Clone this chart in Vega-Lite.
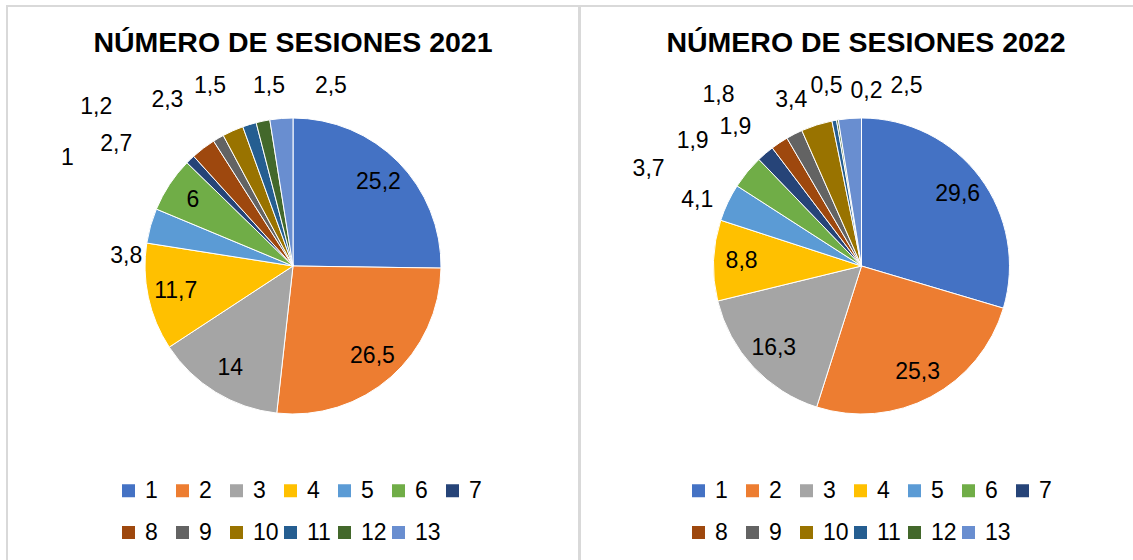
{
  "$schema": "https://vega.github.io/schema/vega-lite/v6.json",
  "padding": {"left": 6, "top": 5, "right": 0, "bottom": 0},
  "spacing": -2,
  "resolve": {"scale": {"color": "independent"}, "legend": {"color": "independent"}},
  "datasets": {
    "d2021": [
      {"cat": 1, "value": 25.2}, {"cat": 2, "value": 26.5}, {"cat": 3, "value": 14},
      {"cat": 4, "value": 11.7}, {"cat": 5, "value": 3.8}, {"cat": 6, "value": 6},
      {"cat": 7, "value": 1}, {"cat": 8, "value": 2.7}, {"cat": 9, "value": 1.2},
      {"cat": 10, "value": 2.3}, {"cat": 11, "value": 1.5}, {"cat": 12, "value": 1.5},
      {"cat": 13, "value": 2.5}
    ],
    "d2022": [
      {"cat": 1, "value": 29.6}, {"cat": 2, "value": 25.3}, {"cat": 3, "value": 16.3},
      {"cat": 4, "value": 8.8}, {"cat": 5, "value": 4.1}, {"cat": 6, "value": 3.7},
      {"cat": 7, "value": 1.9}, {"cat": 8, "value": 1.9}, {"cat": 9, "value": 1.8},
      {"cat": 10, "value": 3.4}, {"cat": 11, "value": 0.5}, {"cat": 12, "value": 0.2},
      {"cat": 13, "value": 2.5}
    ]
  },
  "hconcat": [
    {
      "width": 572, "height": 560,
      "title": {"text": "NÚMERO DE SESIONES 2021", "offset": -74, "baseline": "alphabetic", "fontSize": 28.5, "fontWeight": "bold", "color": "#000000", "anchor": "middle", "frame": "group"},
      "data": {"name": "d2021"},
      "encoding": {
        "theta": {"field": "value", "type": "quantitative", "stack": true},
        "order": {"field": "cat", "type": "quantitative"}
      },
      "layer": [
        {
          "mark": {"type": "arc", "outerRadius": 148, "stroke": "#ffffff", "strokeWidth": 1, "yOffset": -20},
          "encoding": {
            "color": {"field": "cat", "type": "nominal",
              "scale": {"domain": [1,2,3,4,5,6,7,8,9,10,11,12,13], "range": ["#4472C4","#ED7D31","#A5A5A5","#FFC000","#5B9BD5","#70AD47","#264478","#9E480E","#636363","#997300","#255E91","#43682B","#698ED0"]},
              "legend": {"title": null, "orient": "none", "legendX": 110, "legendY": 473, "direction": "horizontal", "columns": 7, "gridAlign": "all", "symbolType": "square", "symbolSize": 169, "symbolStrokeWidth": 0, "labelFontSize": 23, "labelOffset": 5, "columnPadding": -6.5, "rowPadding": 18, "padding": 0, "labelColor": "#000000"}}
          }
        },
        {"mark": {"type": "text", "radius": 120, "fontSize": 23, "yOffset": -20, "color": "#000000"},
         "encoding": {"text": {"condition": {"test": "datum.value >= 5", "field": "value", "type": "quantitative", "format": ".1~f"}, "value": ""}}},
        {"mark": {"type": "text", "radius": 167, "thetaOffset": -0.215, "fontSize": 23, "yOffset": -20, "color": "#000000"},
         "encoding": {"text": {"condition": {"test": "datum.cat == 5", "field": "value", "type": "quantitative", "format": ".1~f"}, "value": ""}}},
        {"mark": {"type": "text", "radius": 250, "thetaOffset": -0.358, "fontSize": 23, "yOffset": -20, "color": "#000000"},
         "encoding": {"text": {"condition": {"test": "datum.cat == 7", "field": "value", "type": "quantitative", "format": ".1~f"}, "value": ""}}},
        {"mark": {"type": "text", "radius": 215, "thetaOffset": -0.314, "fontSize": 23, "yOffset": -20, "color": "#000000"},
         "encoding": {"text": {"condition": {"test": "datum.cat == 8", "field": "value", "type": "quantitative", "format": ".1~f"}, "value": ""}}},
        {"mark": {"type": "text", "radius": 253, "thetaOffset": -0.363, "fontSize": 23, "yOffset": -20, "color": "#000000"},
         "encoding": {"text": {"condition": {"test": "datum.cat == 9", "field": "value", "type": "quantitative", "format": ".1~f"}, "value": ""}}},
        {"mark": {"type": "text", "radius": 208, "thetaOffset": -0.230, "fontSize": 23, "yOffset": -20, "color": "#000000"},
         "encoding": {"text": {"condition": {"test": "datum.cat == 10", "field": "value", "type": "quantitative", "format": ".1~f"}, "value": ""}}},
        {"mark": {"type": "text", "radius": 198, "thetaOffset": -0.134, "fontSize": 23, "yOffset": -20, "color": "#000000"},
         "encoding": {"text": {"condition": {"test": "datum.cat == 11", "field": "value", "type": "quantitative", "format": ".1~f"}, "value": ""}}},
        {"mark": {"type": "text", "radius": 182, "thetaOffset": 0.072, "fontSize": 23, "yOffset": -20, "color": "#000000"},
         "encoding": {"text": {"condition": {"test": "datum.cat == 12", "field": "value", "type": "quantitative", "format": ".1~f"}, "value": ""}}},
        {"mark": {"type": "text", "radius": 184, "thetaOffset": 0.286, "fontSize": 23, "yOffset": -20, "color": "#000000"},
         "encoding": {"text": {"condition": {"test": "datum.cat == 13", "field": "value", "type": "quantitative", "format": ".1~f"}, "value": ""}}}
      ]
    },
    {
      "width": 572, "height": 560,
      "title": {"text": "NÚMERO DE SESIONES 2022", "offset": -74, "baseline": "alphabetic", "fontSize": 28.5, "fontWeight": "bold", "color": "#000000", "anchor": "middle", "frame": "group"},
      "data": {"name": "d2022"},
      "encoding": {
        "theta": {"field": "value", "type": "quantitative", "stack": true},
        "order": {"field": "cat", "type": "quantitative"}
      },
      "layer": [
        {
          "mark": {"type": "arc", "outerRadius": 148, "stroke": "#ffffff", "strokeWidth": 1, "yOffset": -20, "xOffset": -4.5},
          "encoding": {
            "color": {"field": "cat", "type": "nominal",
              "scale": {"domain": [1,2,3,4,5,6,7,8,9,10,11,12,13], "range": ["#4472C4","#ED7D31","#A5A5A5","#FFC000","#5B9BD5","#70AD47","#264478","#9E480E","#636363","#997300","#255E91","#43682B","#698ED0"]},
              "legend": {"title": null, "orient": "none", "legendX": 107, "legendY": 473, "direction": "horizontal", "columns": 7, "gridAlign": "all", "symbolType": "square", "symbolSize": 169, "symbolStrokeWidth": 0, "labelFontSize": 23, "labelOffset": 5, "columnPadding": -6.5, "rowPadding": 18, "padding": 0, "labelColor": "#000000"}}
          }
        },
        {"mark": {"type": "text", "radius": 120, "fontSize": 23, "yOffset": -20, "xOffset": -4.5, "color": "#000000"},
         "encoding": {"text": {"condition": {"test": "datum.value >= 5", "field": "value", "type": "quantitative", "format": ".1~f"}, "value": ""}}},
        {"mark": {"type": "text", "radius": 177, "thetaOffset": -0.061, "fontSize": 23, "yOffset": -20, "xOffset": -4.5, "color": "#000000"},
         "encoding": {"text": {"condition": {"test": "datum.cat == 5", "field": "value", "type": "quantitative", "format": ".1~f"}, "value": ""}}},
        {"mark": {"type": "text", "radius": 234, "thetaOffset": -0.260, "fontSize": 23, "yOffset": -20, "xOffset": -4.5, "color": "#000000"},
         "encoding": {"text": {"condition": {"test": "datum.cat == 6", "field": "value", "type": "quantitative", "format": ".1~f"}, "value": ""}}},
        {"mark": {"type": "text", "radius": 210, "thetaOffset": -0.227, "fontSize": 23, "yOffset": -20, "xOffset": -4.5, "color": "#000000"},
         "encoding": {"text": {"condition": {"test": "datum.cat == 7", "field": "value", "type": "quantitative", "format": ".1~f"}, "value": ""}}},
        {"mark": {"type": "text", "radius": 188, "thetaOffset": -0.148, "fontSize": 23, "yOffset": -20, "xOffset": -4.5, "color": "#000000"},
         "encoding": {"text": {"condition": {"test": "datum.cat == 8", "field": "value", "type": "quantitative", "format": ".1~f"}, "value": ""}}},
        {"mark": {"type": "text", "radius": 223, "thetaOffset": -0.225, "fontSize": 23, "yOffset": -20, "xOffset": -4.5, "color": "#000000"},
         "encoding": {"text": {"condition": {"test": "datum.cat == 9", "field": "value", "type": "quantitative", "format": ".1~f"}, "value": ""}}},
        {"mark": {"type": "text", "radius": 180, "thetaOffset": -0.093, "fontSize": 23, "yOffset": -20, "xOffset": -4.5, "color": "#000000"},
         "encoding": {"text": {"condition": {"test": "datum.cat == 10", "field": "value", "type": "quantitative", "format": ".1~f"}, "value": ""}}},
        {"mark": {"type": "text", "radius": 183, "thetaOffset": -0.007, "fontSize": 23, "yOffset": -20, "xOffset": -4.5, "color": "#000000"},
         "encoding": {"text": {"condition": {"test": "datum.cat == 11", "field": "value", "type": "quantitative", "format": ".1~f"}, "value": ""}}},
        {"mark": {"type": "text", "radius": 175, "thetaOffset": 0.192, "fontSize": 23, "yOffset": -20, "xOffset": -4.5, "color": "#000000"},
         "encoding": {"text": {"condition": {"test": "datum.cat == 12", "field": "value", "type": "quantitative", "format": ".1~f"}, "value": ""}}},
        {"mark": {"type": "text", "radius": 186, "thetaOffset": 0.323, "fontSize": 23, "yOffset": -20, "xOffset": -4.5, "color": "#000000"},
         "encoding": {"text": {"condition": {"test": "datum.cat == 13", "field": "value", "type": "quantitative", "format": ".1~f"}, "value": ""}}}
      ]
    }
  ],
  "config": {
    "font": "Liberation Sans",
    "view": {"stroke": "#d9d9d9", "strokeWidth": 2},
    "style": {"view": {"stroke": "#d9d9d9", "strokeWidth": 2}},
    "locale": {"number": {"decimal": ",", "thousands": ".", "grouping": [3], "currency": ["", " €"]}}
  }
}
